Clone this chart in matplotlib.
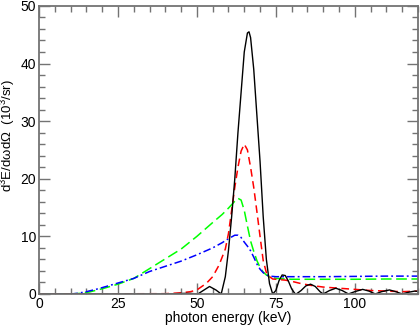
import matplotlib
matplotlib.use('Agg')
import matplotlib.pyplot as plt

plt.rcParams['font.family'] = ['Liberation Sans', 'DejaVu Sans']
plt.rcParams['mathtext.fontset'] = 'custom'
plt.rcParams['mathtext.rm'] = 'Liberation Sans'
plt.rcParams['mathtext.it'] = 'Liberation Sans'

# black solid
black_x = [0, 40, 46, 48, 50.3, 52, 54, 56, 57.7, 59, 60, 61, 62, 63, 64, 65, 66, 66.5,
           67, 68, 69, 70, 71, 72, 73, 74, 75, 76, 77, 78, 79, 80, 81, 81.5, 83, 84.5,
           86, 87.5, 89, 90, 92, 94, 96, 98, 100, 102.5, 104.5, 106.5, 108.5, 111, 113,
           115, 117, 119, 120]
black_y = [0, 0, 0.1, 0.1, 0, 0.6, 1.3, 0.7, 0, 3, 7.6, 13.4, 20, 28, 35, 42, 45.3, 45.5,
           44.5, 39, 31, 23, 13.4, 6, 1.8, 0, 0.6, 2.3, 3.3, 3.2, 2.2, 0.9, 0.1, 0, 0.6, 1.4,
           1.7, 1.3, 0.4, 0, 0.6, 1.0, 0.6, 0, 0.4, 0.8, 0.5, 0, 0.4, 0.7, 0.4,
           0, 0.3, 0.5, 0.45]

# red dashed
red_x = [0, 40, 45, 48, 50, 53, 55, 57, 59, 60, 61, 62, 63, 64, 65, 66, 67, 68, 69, 70,
         71, 72, 73, 74, 76, 78, 80, 83, 86, 90, 95, 100, 105, 110, 115, 120]
red_y = [0, 0.05, 0.2, 0.4, 0.7, 1.85, 3.0, 5.0, 7.8, 10.5, 14.5, 18.5, 22, 24.8, 26, 25,
         22, 18.5, 14.3, 10, 5.8, 3.7, 3.0, 2.6, 2.5, 2.4, 2.2, 1.8, 1.5, 1.2, 1.0, 0.8,
         0.6, 0.5, 0.4, 0.5]

# green long dashes
green_x = [0, 10, 13, 16, 20, 25, 30, 35, 40, 45, 50, 55, 58, 60, 62, 63, 64, 65, 66, 67,
           68, 69, 70, 71, 72, 73, 75, 80, 90, 100, 110, 120]
green_y = [0, 0, 0.1, 0.35, 0.9, 1.7, 2.7, 4.4, 6.1, 7.8, 10.0, 12.4, 13.8, 14.9, 16.1, 16.6,
           16.3, 14.5, 11.8, 9.2, 7.4, 5.8, 4.6, 3.8, 3.3, 3.0, 2.7, 2.55, 2.55, 2.55, 2.6, 2.6]

# blue dash-dot
blue_x = [0, 10, 12, 15, 18, 20, 25, 30, 35, 40, 45, 50, 55, 58, 60, 62, 63, 64, 65, 66,
          67, 68, 69, 70, 71, 72, 73, 75, 80, 90, 100, 110, 120]
blue_y = [0, 0, 0.1, 0.4, 0.8, 1.1, 1.9, 2.7, 3.9, 4.8, 5.7, 6.8, 8.0, 8.9, 9.6, 10.2, 10.2,
          9.8, 9.0, 8.3, 7.5, 6.4, 5.2, 4.3, 3.7, 3.3, 3.1, 3.0, 3.0, 3.0, 3.05, 3.1, 3.1]

fig = plt.figure(figsize=(4.2, 3.27), dpi=100)
ax = fig.add_axes([0.093, 0.101, 0.902, 0.881])

ax.plot(green_x, green_y, color='#00ff00', lw=1.1, dashes=(7, 3))
ax.plot(blue_x, blue_y, color='#0000ff', lw=1.1, dashes=(5, 2, 1.2, 2))
ax.plot(red_x, red_y, color='#ff0000', lw=1.1, dashes=(5, 3))
ax.plot(black_x, black_y, color='black', lw=1.0)

ax.set_xlim(0, 120)
ax.set_ylim(0, 50)
ax.set_xticks([0, 25, 50, 75, 100])
ax.set_xticks(range(0, 121, 5), minor=True)
ax.set_yticks(range(0, 51, 10))
ax.set_yticks(range(0, 51, 2), minor=True)
ax.tick_params(which='both', direction='in', top=True, right=True, color='0.45',
               labelsize=10, width=1)
ax.tick_params(which='major', length=8, pad=2)
ax.tick_params(which='minor', length=4)
for s in ax.spines.values():
    s.set_color('0.45')
    s.set_linewidth(1.3)

ax.set_xlabel('photon energy (keV)', fontsize=10)
ax.xaxis.set_label_coords(0.5, -0.058)
ax.set_ylabel(r'd$^3$E/d$\omega$d$\Omega$  (10$^3$/sr)', fontsize=9.5)
ax.yaxis.set_label_coords(-0.057, 0.55)

fig.savefig('out.png', dpi=100)
